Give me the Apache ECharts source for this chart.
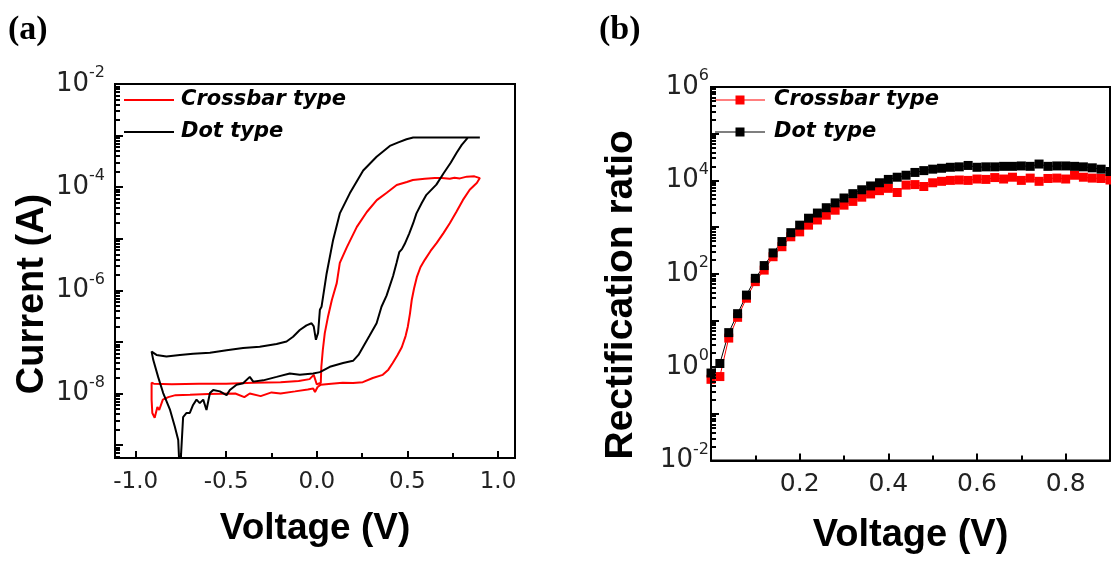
<!DOCTYPE html>
<html>
<head>
<meta charset="utf-8">
<script src="https://cdn.jsdelivr.net/npm/echarts@6/dist/echarts.min.js"></script>
<style>
  html, body { margin: 0; padding: 0; background: #fff; }
  #chart { width: 1111px; height: 563px; }
</style>
</head>
<body>
<div id="chart"></div>
<script>
// ---- Panel (a): I-V sweeps, current in A ----
const crossbarIvVoltage = [
  0.005, 0.022, 0.08, 0.143, 0.2, 0.254, 0.309, 0.364, 0.395, 0.419, 0.445, 0.469, 0.49, 0.502, 0.514,
  0.524, 0.537, 0.552, 0.572, 0.596, 0.628, 0.662, 0.70, 0.734, 0.77, 0.806, 0.844, 0.883, 0.90,
  0.87, 0.86, 0.828, 0.79, 0.76, 0.734, 0.69, 0.651, 0.596, 0.53, 0.497, 0.441, 0.386, 0.331, 0.276,
  0.221, 0.166, 0.127, 0.11, 0.083, 0.061, 0.044, 0.033, 0.025, 0.022,
  0.0, -0.017, -0.04, -0.1, -0.2, -0.35, -0.5, -0.65, -0.8, -0.9, -0.912,
  -0.912, -0.908, -0.895, -0.88, -0.87, -0.85, -0.82, -0.78, -0.7, -0.6, -0.45, -0.4, -0.37, -0.31,
  -0.25, -0.2, -0.12, -0.05, -0.02, -0.01, 0.005
];
const crossbarIvCurrent = [
  1.35e-8, 1.48e-8, 1.55e-8, 1.62e-8, 1.6e-8, 1.66e-8, 2.0e-8, 2.3e-8, 2.9e-8, 3.9e-8, 5.5e-8, 7.9e-8, 1.3e-7, 1.95e-7, 3.5e-7,
  6.5e-7, 1.1e-6, 1.8e-6, 2.8e-6, 3.9e-6, 5.8e-6, 8.3e-6, 1.3e-5, 2.0e-5, 3.3e-5, 5.6e-5, 8.9e-5, 1.2e-4, 1.5e-4,
  1.62e-4, 1.58e-4, 1.6e-4, 1.48e-4, 1.52e-4, 1.45e-4, 1.5e-4, 1.5e-4, 1.45e-4, 1.38e-4, 1.26e-4, 1.1e-4, 7.8e-5, 5.6e-5, 3.3e-5,
  1.7e-5, 6.9e-6, 3.4e-6, 1.38e-6, 6.5e-7, 3.0e-7, 1.48e-7, 6.9e-8, 3.3e-8, 1.62e-8,
  1.5e-8, 2.3e-8, 1.9e-8, 1.74e-8, 1.66e-8, 1.62e-8, 1.55e-8, 1.55e-8, 1.52e-8, 1.55e-8, 1.62e-8,
  7.6e-9, 4.2e-9, 3.4e-9, 5.5e-9, 4.8e-9, 7.6e-9, 8.5e-9, 9.3e-9, 9.5e-9, 9.8e-9, 1.0e-8, 8.5e-9, 1.0e-8, 8.9e-9,
  1.05e-8, 1.0e-8, 1.1e-8, 1.2e-8, 1.25e-8, 1.07e-8, 1.35e-8
];
const dotIvVoltage = [
  0.017, 0.072, 0.145, 0.20, 0.23, 0.256, 0.29, 0.33, 0.357, 0.385, 0.421, 0.44, 0.455, 0.47, 0.485,
  0.51, 0.532, 0.55, 0.58, 0.605, 0.66, 0.70, 0.74, 0.771, 0.80, 0.835, 0.90,
  0.532, 0.495, 0.45, 0.403, 0.33, 0.256, 0.182, 0.127, 0.09, 0.054, 0.026, 0.017, 0.007,
  -0.005, -0.017, -0.029, -0.057, -0.094, -0.131, -0.167, -0.222, -0.315, -0.407, -0.498, -0.59, -0.683,
  -0.756, -0.83, -0.885, -0.912,
  -0.903, -0.876, -0.848, -0.81, -0.784, -0.765, -0.756, -0.747, -0.738, -0.719, -0.701, -0.683, -0.664,
  -0.646, -0.627, -0.609, -0.59, -0.572, -0.535, -0.498, -0.48, -0.443, -0.407, -0.37, -0.351, -0.296,
  -0.222, -0.149, -0.094, -0.02, 0.017
];
const dotIvCurrent = [
  2.6e-8, 3.3e-8, 3.9e-8, 4.3e-8, 5.6e-8, 8.1e-8, 1.3e-7, 2.3e-7, 4.8e-7, 7.9e-7, 1.9e-6, 3.4e-6, 5.5e-6, 6.3e-6, 7.9e-6,
  1.26e-5, 2.0e-5, 3.1e-5, 5.0e-5, 7.1e-5, 1.12e-4, 1.86e-4, 3.0e-4, 4.6e-4, 6.6e-4, 9.2e-4, 9.2e-4,
  9.2e-4, 8.5e-4, 7.4e-4, 6.3e-4, 3.9e-4, 2.1e-4, 7.6e-5, 3.1e-5, 9.5e-6, 2.1e-6, 4.8e-7, 4.2e-7, 1.5e-7,
  1.1e-7, 2.0e-7, 2.3e-7, 2.1e-7, 1.7e-7, 1.26e-7, 1.02e-7, 9.1e-8, 8.1e-8, 7.6e-8, 6.9e-8, 6.2e-8, 5.9e-8,
  5.6e-8, 5.2e-8, 5.6e-8, 6.5e-8,
  4.5e-8, 2.1e-8, 1.02e-8, 4.8e-9, 2.3e-9, 1.26e-9, 2.5e-10, 2.5e-10, 3.5e-9, 4.2e-9, 4.2e-9, 6.0e-9, 7.6e-9,
  6.5e-9, 7.6e-9, 4.8e-9, 1.02e-8, 1.17e-8, 1.1e-8, 9.3e-9, 1.17e-8, 1.48e-8, 1.58e-8, 2.1e-8, 1.7e-8, 1.8e-8,
  2.1e-8, 2.45e-8, 2.3e-8, 2.45e-8, 2.6e-8
];

// ---- Panel (b): rectification ratio ----
const ratioVoltage = [
  0.00, 0.02, 0.04, 0.06, 0.08, 0.10, 0.12, 0.14, 0.16, 0.18, 0.20, 0.22, 0.24, 0.26, 0.28, 0.30,
  0.32, 0.34, 0.36, 0.38, 0.40, 0.42, 0.44, 0.46, 0.48, 0.50, 0.52, 0.54, 0.56, 0.58, 0.60,
  0.62, 0.64, 0.66, 0.68, 0.70, 0.72, 0.74, 0.76, 0.78, 0.80, 0.82, 0.84, 0.86, 0.88, 0.90
];
const crossbarRatio = [
  0.55, 0.63, 4.2, 11.7, 30, 68, 120, 232, 380, 620, 790, 1100, 1420, 1800, 2300, 2950,
  3550, 4370, 5130, 6030, 6760, 5500, 7940, 8130, 7410, 8900, 9550, 10000, 10200, 10000, 10700,
  10500, 11500, 10700, 11700, 10000, 11200, 9550, 11000, 11200, 10700, 12900, 11700, 11200, 11000, 10200
];
const dotRatio = [
  0.75, 1.2, 5.5, 14, 35, 80, 150, 280, 490, 760, 1100, 1550, 2000, 2600, 3300, 4200,
  5200, 6300, 7600, 8900, 10500, 11700, 12900, 14800, 16200, 17400, 18200, 19100, 19500, 20900, 19100,
  19500, 19500, 20000, 20000, 20400, 20000, 22400, 20000, 20400, 20400, 20000, 19500, 18600, 17400, 15500
];

// ---- Tick labels ----
const voltageLabelsA = [-1.0, -0.5, 0.0, 0.5, 1.0];
const voltageLabelsB = [0.2, 0.4, 0.6, 0.8];
const labelledDecadeStep = 2;   // every second decade carries a 10^n label

const toPairs = (xs, ys) => xs.map((x, i) => [x, ys[i]]);

const SANS = 'DejaVu Sans';
const ARIAL = 'Liberation Sans';
const LABEL_COLOR = '#222';

const A_X = [-1.114, 1.094];
const A_Y = [Math.pow(10, -9.25), 1e-2];
const B_X = [0, 0.9];
const B_Y = [1e-2, 1e6];

function powerLabel(size, supSize, lineH, margin) {
  return {
    margin: margin,
    formatter: v => {
      const e = Math.log10(v);
      const n = Math.round(e);
      if (Math.abs(e - n) > 1e-6 || n % labelledDecadeStep !== 0) return '';
      return '{b|10}{s|' + n + '}';
    },
    rich: {
      b: { fontSize: size, lineHeight: lineH, fontFamily: SANS, color: LABEL_COLOR },
      s: { fontSize: supSize, lineHeight: supSize, verticalAlign: 'top', fontFamily: SANS, color: LABEL_COLOR }
    }
  };
}

function voltageAxis(grid, range, labels, fontSize, margin, nameSize, nameGap) {
  return {
    gridIndex: grid, type: 'value', position: 'bottom', min: range[0], max: range[1], splitNumber: 5,
    z: 5,
    splitLine: { show: false },
    axisLine: { show: true, onZero: false, lineStyle: { color: '#000', width: 2 } },
    axisTick: { show: true, inside: true, length: 7, lineStyle: { color: '#000', width: 2 } },
    minorTick: { show: true, splitNumber: 2, length: 5, lineStyle: { color: '#000', width: 2 } },
    axisLabel: { customValues: labels, formatter: v => v.toFixed(1), fontFamily: SANS, fontSize: fontSize, color: LABEL_COLOR, margin: margin },
    name: 'Voltage (V)', nameLocation: 'middle', nameGap: nameGap,
    nameTextStyle: { fontFamily: ARIAL, fontWeight: 'bold', fontSize: nameSize, color: '#000' }
  };
}
function logAxis(grid, range, label, name, nameSize, nameGap, namePad) {
  return {
    gridIndex: grid, type: 'log', logBase: 10, position: 'left', min: range[0], max: range[1], splitNumber: 10,
    z: 5,
    splitLine: { show: false },
    axisLine: { show: true, onZero: false, lineStyle: { color: '#000', width: 2 } },
    axisTick: { show: true, inside: true, length: 8, lineStyle: { color: '#000', width: 2 } },
    minorTick: { show: true, splitNumber: 9, length: 5, lineStyle: { color: '#000', width: 2 } },
    axisLabel: label,
    name: name, nameLocation: 'middle', nameGap: nameGap,
    nameTextStyle: { fontFamily: ARIAL, fontWeight: 'bold', fontSize: nameSize, color: '#000', padding: namePad }
  };
}

const legendText = { fontFamily: SANS, fontWeight: 'bold', fontStyle: 'italic', fontSize: 21, color: '#000', lineHeight: 22 };

const option = {
  animation: false,
  backgroundColor: '#fff',
  title: [
    { text: '(a)', left: 8, top: 13, padding: 0, textStyle: { fontFamily: 'Liberation Serif', fontWeight: 'bold', fontSize: 34, color: '#000' } },
    { text: '(b)', left: 599, top: 13, padding: 0, textStyle: { fontFamily: 'Liberation Serif', fontWeight: 'bold', fontSize: 34, color: '#000' } }
  ],
  legend: [
    {
      orient: 'vertical', left: 124, top: 89, padding: 0, itemGap: 10,
      itemWidth: 50, itemHeight: 2, icon: 'rect',
      data: ['Crossbar type', 'Dot type'],
      textStyle: Object.assign({ padding: [0, 0, 0, 2] }, legendText)
    },
    {
      orient: 'vertical', left: 715, top: 89, padding: 0, itemGap: 10,
      itemWidth: 50, itemHeight: 9,
      icon: 'path://M0 4.5L50 4.5L50 5.5L0 5.5Z M20.5 0.5L29.5 0.5L29.5 9.5L20.5 9.5Z',
      data: ['Crossbar type', 'Dot type'],
      textStyle: Object.assign({ padding: [0, 0, 0, 4] }, legendText)
    }
  ],
  grid: [
    { left: 115, top: 84, width: 400, height: 374, show: true, backgroundColor: 'rgba(0,0,0,0)', borderColor: '#000', borderWidth: 2, outerBoundsMode: 'none', containLabel: false },
    { left: 711, top: 87, width: 399, height: 373.6, show: true, backgroundColor: 'rgba(0,0,0,0)', borderColor: '#000', borderWidth: 2, outerBoundsMode: 'none', containLabel: false }
  ],
  xAxis: [
    voltageAxis(0, A_X, voltageLabelsA, 23, 13, 37, 52),
    voltageAxis(1, B_X, voltageLabelsB, 25, 11, 38, 56)
  ],
  yAxis: [
    logAxis(0, A_Y, powerLabel(26, 16, 38, 10), 'Current (A)', 38, 63, [0, 46, 0, 0]),
    logAxis(1, B_Y, powerLabel(26, 16, 38, 2), 'Rectification ratio', 39, 70, [0, 42, 0, 0])
  ],
  series: [
    {
      name: 'Crossbar type', type: 'line', xAxisIndex: 0, yAxisIndex: 0,
      data: toPairs(crossbarIvVoltage, crossbarIvCurrent),
      symbol: 'none', clip: true, color: '#ff0000',
      lineStyle: { color: '#ff0000', width: 2 }
    },
    {
      name: 'Dot type', type: 'line', xAxisIndex: 0, yAxisIndex: 0,
      data: toPairs(dotIvVoltage, dotIvCurrent),
      symbol: 'none', clip: true, color: '#000',
      lineStyle: { color: '#000', width: 2 }
    },
    {
      name: 'Crossbar type', type: 'line', xAxisIndex: 1, yAxisIndex: 1,
      data: toPairs(ratioVoltage, crossbarRatio),
      symbol: 'rect', symbolSize: 9, clip: true, color: '#ff0000',
      itemStyle: { color: '#ff0000' }, lineStyle: { color: '#ff0000', width: 1 }
    },
    {
      name: 'Dot type', type: 'line', xAxisIndex: 1, yAxisIndex: 1,
      data: toPairs(ratioVoltage, dotRatio),
      symbol: 'rect', symbolSize: 9, clip: true, color: '#000',
      itemStyle: { color: '#000' }, lineStyle: { color: '#000', width: 1 }
    }
  ]
};

const chart = echarts.init(document.getElementById('chart'), null, { renderer: 'canvas' });
chart.setOption(option);
</script>
</body>
</html>
